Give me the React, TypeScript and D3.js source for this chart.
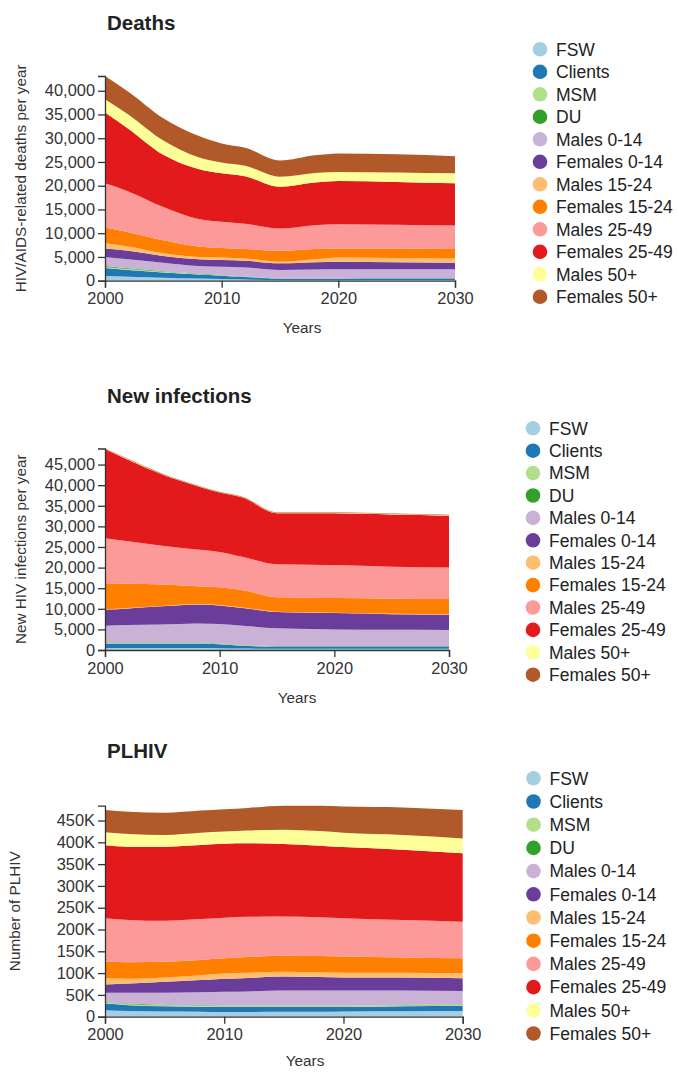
import React, { useEffect, useRef } from 'react';
import * as d3 from 'd3';

// years the series were read at
const years = [2000, 2002, 2005, 2008, 2010, 2012, 2015, 2018, 2020, 2025, 2030];
const xTicks = [2000, 2010, 2020, 2030];

const groups = [
  'FSW', 'Clients', 'MSM', 'DU',
  'Males 0-14', 'Females 0-14', 'Males 15-24', 'Females 15-24',
  'Males 25-49', 'Females 25-49', 'Males 50+', 'Females 50+',
];
const colors = [
  '#a6cee3', '#1f78b4', '#b2df8a', '#33a02c',
  '#cab2d6', '#6a3d9a', '#fdbf6f', '#ff7f00',
  '#fb9a99', '#e31a1c', '#ffff99', '#b15928',
];

// one row per group, same order as `groups`
const deaths = [
  [1000, 850, 620, 460, 370, 270, 120, 120, 120, 130, 130],
  [1650, 1400, 1100, 860, 690, 520, 280, 280, 280, 310, 310],
  [250, 200, 150, 100, 80, 60, 30, 30, 30, 40, 40],
  [200, 150, 130, 80, 60, 50, 20, 20, 20, 20, 20],
  [1900, 1900, 1800, 1600, 1750, 1900, 1800, 1900, 1950, 1900, 1900],
  [1800, 1800, 1400, 1400, 1400, 1400, 1400, 1550, 1600, 1500, 1400],
  [1100, 900, 600, 500, 550, 500, 350, 600, 900, 900, 900],
  [3300, 3000, 2700, 2200, 2000, 2000, 2300, 2200, 1900, 2000, 2000],
  [9300, 8600, 7000, 5800, 5500, 5300, 4700, 5000, 5100, 5000, 4900],
  [14900, 13200, 11000, 10500, 10200, 10000, 8800, 9000, 9100, 9000, 8900],
  [2800, 3000, 3000, 2500, 2300, 2200, 2100, 2000, 1900, 2000, 2100],
  [4900, 4800, 4700, 4500, 4000, 3800, 3400, 3700, 3900, 3800, 3600],
];

const infections = [
  [500, 500, 500, 500, 450, 350, 300, 300, 300, 300, 300],
  [1050, 1050, 1050, 1050, 950, 700, 550, 550, 550, 550, 550],
  [150, 150, 150, 150, 120, 90, 60, 60, 60, 60, 60],
  [100, 100, 100, 100, 80, 60, 40, 40, 40, 40, 40],
  [4100, 4250, 4400, 4660, 4700, 4700, 4300, 4150, 4050, 3950, 3900],
  [3850, 4050, 4400, 4590, 4500, 4300, 3950, 3950, 3950, 3800, 3700],
  [100, 100, 100, 100, 100, 100, 100, 100, 100, 100, 100],
  [6350, 5900, 5200, 4350, 4300, 4200, 3500, 3550, 3550, 3650, 3750],
  [10900, 10300, 9400, 8900, 8600, 8100, 8000, 8000, 8000, 7750, 7600],
  [21600, 19800, 17300, 15400, 14400, 14400, 12400, 12500, 12600, 12700, 12600],
  [80, 80, 80, 80, 80, 80, 80, 80, 80, 80, 80],
  [120, 120, 120, 120, 120, 120, 120, 120, 120, 120, 120],
];

const plhiv = [
  [15000, 13000, 12000, 11500, 11000, 11000, 11500, 11500, 12000, 12500, 13000],
  [15000, 13500, 12000, 11500, 11500, 11500, 11000, 11000, 10500, 11500, 12000],
  [2500, 2300, 2000, 2000, 1800, 1800, 1800, 1800, 1800, 2000, 2000],
  [1500, 1200, 1000, 1000, 700, 700, 700, 700, 700, 1000, 1000],
  [21000, 25000, 28000, 30000, 32000, 33000, 35000, 35000, 35000, 33000, 31000],
  [19000, 21000, 25000, 28000, 30000, 31000, 32000, 31000, 30000, 30000, 29000],
  [14000, 11000, 10000, 11000, 12000, 12000, 11000, 11000, 11000, 11000, 12000],
  [38000, 38000, 36000, 35000, 35000, 36000, 37000, 37000, 37000, 35000, 34000],
  [100000, 97000, 94000, 94000, 93000, 92000, 90000, 89000, 88000, 86000, 84000],
  [167000, 168000, 170000, 170000, 170000, 169000, 166000, 164000, 163000, 161000, 157000],
  [30000, 29000, 27000, 28000, 28000, 29000, 33000, 34000, 33000, 34000, 34000],
  [51000, 51000, 51000, 51000, 51000, 52000, 55000, 58000, 60000, 63000, 65000],
];

const FONT = '"Liberation Sans", Arial, sans-serif';

const panels = [
  {
    title: 'Deaths', yLabel: 'HIV/AIDS-related deaths per year', series: deaths,
    fmt: d3.format(','), x0: 105, x1: 455, yB: 280.7, yT: 76, titleY: 30,
    yLabX: 20.7, yearsX: 302, yearsY: 333, legX: 540, legY: 49.3, legStep: 22.5,
  },
  {
    title: 'New infections', yLabel: 'New HIV infections per year', series: infections,
    fmt: d3.format(','), x0: 105, x1: 449, yB: 650, yT: 448.5, titleY: 403,
    yLabX: 20.7, yearsX: 297, yearsY: 703, legX: 533, legY: 428.3, legStep: 22.4,
  },
  {
    title: 'PLHIV', yLabel: 'Number of PLHIV', series: plhiv,
    fmt: (d: number) => (d === 0 ? '0' : `${d / 1000}K`), x0: 105, x1: 462.7, yB: 1016.7, yT: 805.7, titleY: 758,
    yLabX: 15, yearsX: 305, yearsY: 1066, legX: 533.5, legY: 778.3, legStep: 23.2,
  },
];

const drawPanel = (svg: d3.Selection<SVGSVGElement, any, any, any>, p: any) => {
  const rows = years.map((year, i) => {
    const r: any = { year };
    groups.forEach((g, j) => (r[g] = p.series[j][i]));
    return r;
  });
  const stacked = d3.stack<any>().keys(groups)(rows);
  const maxTotal = d3.max(stacked[stacked.length - 1], (d) => d[1]) as number;

  const x = d3.scaleLinear().domain([2000, 2030]).range([p.x0, p.x1]);
  const y = d3.scaleLinear().domain([0, maxTotal]).range([p.yB, p.yT]);

  const g = svg.append('g');

  const area = d3
    .area<any>()
    .x((d) => x(d.data.year))
    .y0((d) => y(d[0]))
    .y1((d) => y(d[1]))
    .curve(d3.curveMonotoneX);

  g.append('g')
    .selectAll('path')
    .data(stacked)
    .join('path')
    .attr('fill', (_, i) => colors[i])
    .attr('d', area);

  const xAxis = g
    .append('g')
    .attr('transform', `translate(0,${p.yB})`)
    .call(d3.axisBottom(x).tickValues(xTicks).tickFormat(d3.format('d')).tickSize(7).tickPadding(5));
  const yAxis = g
    .append('g')
    .attr('transform', `translate(${p.x0},0)`)
    .call(d3.axisLeft(y).tickFormat(p.fmt).tickSize(7).tickPadding(3));

  [xAxis, yAxis].forEach((a) => {
    a.selectAll('path, line').attr('stroke', '#333').attr('stroke-width', 1.3);
    a.selectAll('text').attr('fill', '#333').style('font', `16.4px ${FONT}`);
  });

  g.append('text')
    .attr('x', p.x0 + 2)
    .attr('y', p.titleY)
    .attr('fill', '#222')
    .style('font', `bold 20.5px ${FONT}`)
    .text(p.title);

  g.append('text')
    .attr('transform', `translate(${p.yLabX},${(p.yB + p.yT) / 2}) rotate(-90)`)
    .attr('text-anchor', 'middle')
    .attr('dy', '0.35em')
    .attr('fill', '#333')
    .style('font', `15.3px ${FONT}`)
    .text(p.yLabel);

  g.append('text')
    .attr('x', p.yearsX)
    .attr('y', p.yearsY)
    .attr('text-anchor', 'middle')
    .attr('fill', '#333')
    .style('font', `15.3px ${FONT}`)
    .text('Years');

  const leg = g
    .append('g')
    .selectAll('g')
    .data(groups)
    .join('g')
    .attr('transform', (_, i) => `translate(${p.legX},${p.legY + i * p.legStep})`);
  leg.append('circle').attr('r', 7.3).attr('fill', (_, i) => colors[i]);
  leg
    .append('text')
    .attr('x', 16)
    .attr('dy', '0.36em')
    .attr('fill', '#222')
    .style('font', `17.5px ${FONT}`)
    .text((d) => d);
};

const App: React.FC = () => {
  const svgRef = useRef<SVGSVGElement>(null);

  useEffect(() => {
    if (svgRef.current === null) {
      return;
    }
    const svg: d3.Selection<SVGSVGElement, any, any, any> = d3.select(svgRef.current);
    svg.selectAll('*').remove();
    panels.forEach((p) => drawPanel(svg, p));
  }, []);

  return (
    <div style={{ position: 'absolute', left: 0, top: 0, width: 679, height: 1072, overflow: 'hidden', background: '#fff' }}>
      <svg ref={svgRef} width={679} height={1072} style={{ display: 'block' }}></svg>
    </div>
  );
};

export default App;
